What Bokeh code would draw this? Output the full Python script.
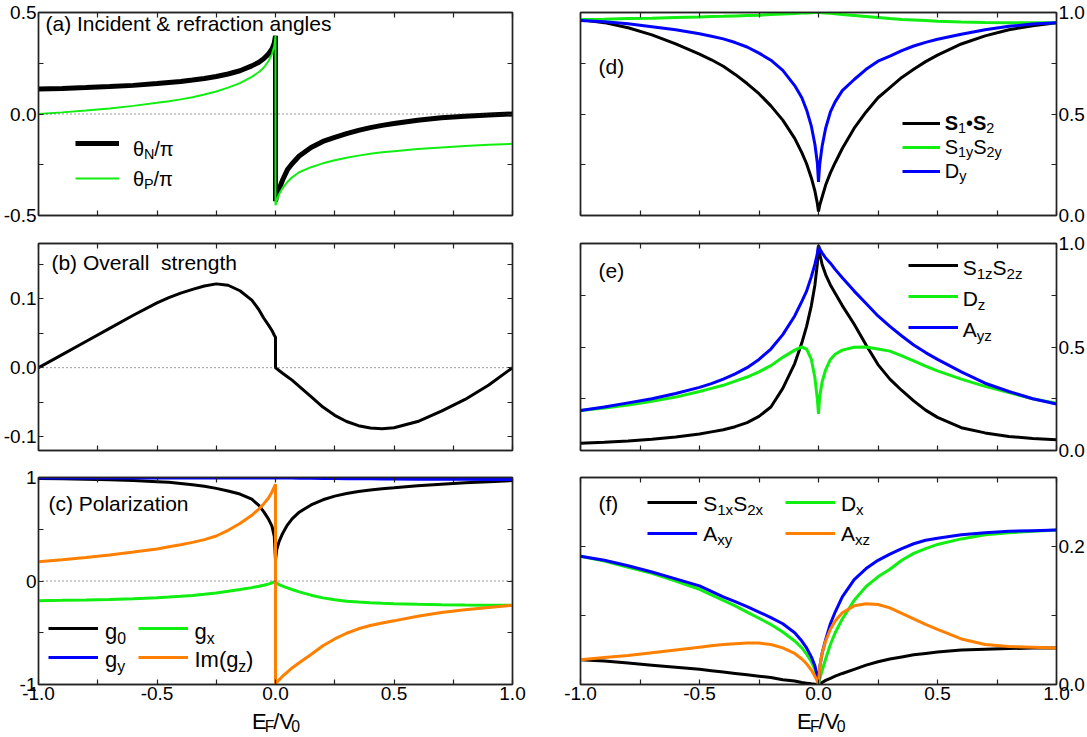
from bokeh.plotting import figure
from bokeh.layouts import gridplot
from bokeh.models import (Range1d, LinearAxis, FixedTicker, PrintfTickFormatter,
                          CustomJSTickFormatter, Span, Label, Legend, LegendItem)
from bokeh.embed import file_html
from bokeh.resources import INLINE

FONT = "Liberation Sans"
AX = "#222222"
GREEN = "#11ee11"
BLUE = "#0000ff"
ORANGE = "#ff8000"
BLACK = "#000000"

# ---------------- data: E_F/V_0 samples (two entries at 0 for the jumps) ----------------
E = [-1.0, -0.9, -0.8, -0.7, -0.6, -0.5, -0.45, -0.4, -0.35, -0.3, -0.25, -0.2, -0.15, -0.1, -0.07, -0.05, -0.03, -0.015, -0.005, 0.0,
     0.0, 0.005, 0.015, 0.03, 0.05, 0.07, 0.1, 0.15, 0.2, 0.25, 0.3, 0.35, 0.4, 0.45, 0.5, 0.6, 0.7, 0.8, 0.9, 1.0]

# (a) incident & refraction angles (units of pi)
theta_N = [0.123, 0.126, 0.130, 0.135, 0.141, 0.150, 0.155, 0.160, 0.167, 0.175, 0.185, 0.197, 0.213, 0.237, 0.255, 0.272, 0.295, 0.320, 0.350, 0.385,
           -0.430, -0.400, -0.370, -0.325, -0.275, -0.245, -0.207, -0.165, -0.135, -0.115, -0.097, -0.081, -0.067, -0.056, -0.047, -0.031, -0.019, -0.011, -0.005, 0.000]
theta_P = [0.000, 0.008, 0.017, 0.027, 0.040, 0.055, 0.063, 0.072, 0.083, 0.096, 0.111, 0.130, 0.152, 0.183, 0.207, 0.228, 0.260, 0.295, 0.335, 0.385,
           -0.450, -0.425, -0.395, -0.365, -0.335, -0.312, -0.287, -0.262, -0.243, -0.228, -0.216, -0.205, -0.196, -0.189, -0.183, -0.173, -0.165, -0.158, -0.152, -0.147]

# (b) overall strength
strength = [0.000, 0.019, 0.038, 0.057, 0.076, 0.094, 0.1015, 0.108, 0.1135, 0.1185, 0.1215, 0.1195, 0.1115, 0.098, 0.084, 0.072, 0.062, 0.054, 0.047, 0.044,
            0.000, -0.0013, -0.004, -0.008, -0.013, -0.018, -0.027, -0.042, -0.057, -0.069, -0.078, -0.084, -0.0875, -0.0885, -0.087, -0.078, -0.063, -0.046, -0.025, 0.000]

# (c) polarization
g0 = [0.990, 0.987, 0.983, 0.978, 0.970, 0.960, 0.953, 0.943, 0.930, 0.915, 0.895, 0.870, 0.840, 0.790, 0.730, 0.670, 0.600, 0.530, 0.430, 0.200,
      0.200, 0.300, 0.380, 0.460, 0.540, 0.600, 0.665, 0.735, 0.785, 0.820, 0.845, 0.865, 0.880, 0.891, 0.900, 0.920, 0.935, 0.950, 0.960, 0.970]
gy = [0.995, 0.995, 0.995, 0.995, 0.995, 0.995, 0.995, 0.995, 0.995, 0.995, 0.995, 0.995, 0.995, 0.995, 0.995, 0.995, 0.995, 0.995, 0.995, 0.995,
      0.995, 0.995, 0.995, 0.995, 0.994, 0.994, 0.993, 0.992, 0.991, 0.990, 0.989, 0.988, 0.987, 0.986, 0.985, 0.984, 0.983, 0.982, 0.981, 0.980]
gx = [-0.190, -0.187, -0.183, -0.178, -0.171, -0.161, -0.155, -0.148, -0.139, -0.128, -0.115, -0.100, -0.083, -0.064, -0.051, -0.041, -0.030, -0.018, -0.008, 0.000,
      0.000, -0.020, -0.035, -0.050, -0.066, -0.082, -0.105, -0.137, -0.163, -0.182, -0.195, -0.204, -0.210, -0.215, -0.219, -0.225, -0.229, -0.232, -0.234, -0.235]
im_gz = [0.185, 0.205, 0.228, 0.252, 0.280, 0.310, 0.330, 0.350, 0.373, 0.400, 0.435, 0.490, 0.555, 0.635, 0.695, 0.745, 0.800, 0.860, 0.910, 0.935,
         -1.000, -0.980, -0.955, -0.920, -0.880, -0.840, -0.790, -0.710, -0.625, -0.560, -0.505, -0.462, -0.430, -0.405, -0.385, -0.340, -0.305, -0.278, -0.255, -0.235]

# (d)
s1_dot_s2 = [0.965, 0.950, 0.925, 0.890, 0.845, 0.795, 0.767, 0.735, 0.695, 0.650, 0.600, 0.540, 0.470, 0.380, 0.310, 0.255, 0.185, 0.120, 0.060, 0.020,
             0.020, 0.050, 0.090, 0.150, 0.210, 0.260, 0.330, 0.430, 0.510, 0.580, 0.630, 0.680, 0.720, 0.758, 0.790, 0.845, 0.885, 0.915, 0.935, 0.950]
s1y_s2y = [0.965, 0.967, 0.970, 0.972, 0.975, 0.978, 0.980, 0.981, 0.983, 0.985, 0.987, 0.990, 0.992, 0.995, 0.997, 0.998, 0.999, 1.000, 1.000, 1.000,
           1.000, 1.000, 0.999, 0.998, 0.996, 0.994, 0.990, 0.985, 0.980, 0.975, 0.970, 0.966, 0.963, 0.960, 0.957, 0.953, 0.951, 0.950, 0.950, 0.950]
d_y = [0.960, 0.955, 0.945, 0.930, 0.915, 0.895, 0.883, 0.870, 0.852, 0.830, 0.800, 0.765, 0.715, 0.640, 0.580, 0.520, 0.440, 0.350, 0.260, 0.165,
       0.165, 0.250, 0.340, 0.430, 0.510, 0.560, 0.615, 0.670, 0.720, 0.760, 0.785, 0.812, 0.835, 0.853, 0.868, 0.893, 0.915, 0.932, 0.943, 0.950]

# (e)
s1z_s2z = [0.035, 0.040, 0.046, 0.054, 0.065, 0.080, 0.090, 0.100, 0.115, 0.135, 0.165, 0.210, 0.300, 0.420, 0.520, 0.600, 0.700, 0.800, 0.900, 0.990,
           0.990, 0.950, 0.900, 0.850, 0.800, 0.760, 0.700, 0.610, 0.510, 0.415, 0.345, 0.290, 0.240, 0.195, 0.160, 0.110, 0.085, 0.068, 0.058, 0.052]
d_z = [0.193, 0.205, 0.220, 0.238, 0.258, 0.285, 0.300, 0.315, 0.335, 0.355, 0.380, 0.410, 0.450, 0.485, 0.500, 0.490, 0.440, 0.350, 0.250, 0.177,
       0.177, 0.260, 0.330, 0.390, 0.440, 0.465, 0.485, 0.499, 0.500, 0.490, 0.480, 0.457, 0.433, 0.408, 0.385, 0.345, 0.310, 0.280, 0.250, 0.228]
a_yz = [0.193, 0.210, 0.230, 0.250, 0.275, 0.305, 0.323, 0.345, 0.370, 0.400, 0.440, 0.490, 0.560, 0.650, 0.720, 0.770, 0.840, 0.900, 0.950, 0.990,
        0.990, 0.975, 0.955, 0.930, 0.905, 0.875, 0.835, 0.770, 0.710, 0.650, 0.600, 0.553, 0.510, 0.473, 0.440, 0.380, 0.325, 0.285, 0.250, 0.225]

# (f)
s1x_s2x = [0.036, 0.034, 0.031, 0.028, 0.025, 0.022, 0.020, 0.018, 0.016, 0.014, 0.012, 0.010, 0.007, 0.005, 0.003, 0.002, 0.001, 0.0005, 0.000, 0.000,
           0.000, 0.001, 0.003, 0.006, 0.009, 0.012, 0.016, 0.022, 0.028, 0.033, 0.037, 0.040, 0.043, 0.045, 0.047, 0.050, 0.051, 0.052, 0.053, 0.053]
d_x = [0.186, 0.179, 0.170, 0.161, 0.150, 0.138, 0.130, 0.122, 0.114, 0.105, 0.096, 0.087, 0.076, 0.063, 0.053, 0.044, 0.033, 0.022, 0.010, 0.000,
       0.000, 0.008, 0.020, 0.037, 0.058, 0.075, 0.095, 0.122, 0.142, 0.156, 0.167, 0.180, 0.190, 0.197, 0.203, 0.211, 0.217, 0.220, 0.222, 0.224]
a_xy = [0.186, 0.180, 0.172, 0.163, 0.153, 0.143, 0.135, 0.127, 0.120, 0.113, 0.105, 0.097, 0.088, 0.075, 0.063, 0.053, 0.040, 0.027, 0.013, 0.000,
        0.000, 0.025, 0.045, 0.065, 0.088, 0.105, 0.127, 0.152, 0.168, 0.180, 0.189, 0.197, 0.204, 0.209, 0.212, 0.217, 0.220, 0.222, 0.223, 0.224]
a_xz = [0.036, 0.039, 0.042, 0.046, 0.050, 0.054, 0.056, 0.058, 0.059, 0.060, 0.060, 0.058, 0.053, 0.045, 0.037, 0.030, 0.021, 0.012, 0.005, 0.000,
        0.000, 0.025, 0.045, 0.063, 0.080, 0.092, 0.104, 0.114, 0.117, 0.116, 0.111, 0.103, 0.095, 0.087, 0.080, 0.066, 0.058, 0.055, 0.054, 0.053]

# tick positions
X_MAJOR = [-1.0, -0.5, 0.0, 0.5, 1.0]
X_MINOR = [-0.75, -0.25, 0.25, 0.75]

# ---------------- text metrics (Arial-like, em units) ----------------
WID = {' ': .278, '\u00a0': .278, '(': .333, ')': .333, '&': .667, '.': .278, '/': .278, '-': .333, '•': .35,
       'A': .667, 'D': .722, 'E': .667, 'F': .611, 'I': .278, 'N': .722, 'O': .778, 'P': .667, 'S': .667, 'V': .667,
       'a': .556, 'b': .556, 'c': .5, 'd': .556, 'e': .556, 'f': .278, 'g': .556, 'h': .556, 'i': .222, 'l': .222,
       'm': .833, 'n': .556, 'o': .556, 'r': .333, 's': .5, 't': .278, 'u': .556, 'x': .5, 'y': .5, 'z': .5,
       'θ': .556, 'π': .6}
SUB = 0.72          # subscript size relative to the main text
SUB_DROP = 0.18     # subscript baseline drop, in units of the main size
LIFT = 0.4          # label anchor correction, in units of each piece's size


def text_w(s):
    return sum(WID.get(c, .556) for c in s)


# ---------------- figure construction ----------------
FW = 477
TOPS = [12, 14, 14]
FHS = [203, 207, 207]
TICK_SIZE = "19px"
COL_W = [546, 541]
ROW_H = [229, 234, 245]
TITLE_H = 737 - sum(ROW_H)


def make_axis(ticks, minor, fmt, show, standoff):
    ax = LinearAxis(ticker=FixedTicker(ticks=ticks, minor_ticks=minor))
    if show:
        ax.formatter = PrintfTickFormatter(format=fmt)
        ax.major_label_standoff = standoff
    else:
        ax.formatter = CustomJSTickFormatter(code="return ''")
        ax.major_label_standoff = 0
    ax.major_label_text_font = FONT
    ax.major_label_text_font_size = TICK_SIZE
    ax.major_label_text_color = "black"
    ax.axis_line_color = AX
    ax.axis_line_width = 1.4
    ax.major_tick_in = 5
    ax.major_tick_out = 0
    ax.minor_tick_in = 5
    ax.minor_tick_out = 0
    ax.major_tick_line_color = AX
    ax.minor_tick_line_color = AX
    ax.major_tick_line_width = 1.2
    ax.minor_tick_line_width = 1.2
    return ax


def make_panel(col, row, ylo, yhi, ymaj, ymin, yfmt):
    left = 35 if col == 0 else 34
    right = COL_W[col] - FW - left
    top = TOPS[row]
    fh = FHS[row]
    bottom = ROW_H[row] - fh - top
    p = figure(width=COL_W[col], height=ROW_H[row],
               x_range=Range1d(-1.0, 1.0), y_range=Range1d(ylo, yhi),
               x_axis_location=None, y_axis_location=None,
               output_backend="svg", toolbar_location=None,
               min_border_left=left, min_border_right=right,
               min_border_top=top, min_border_bottom=bottom)
    p.grid.visible = False
    p.outline_line_color = AX
    p.outline_line_width = 1.4
    p.background_fill_color = "white"
    p.border_fill_color = "white"
    p.add_layout(make_axis(X_MAJOR, X_MINOR, "%.1f", row == 2, 2), "below")
    p.add_layout(make_axis(X_MAJOR, X_MINOR, "%.1f", False, 0), "above")
    p.add_layout(make_axis(ymaj, ymin, yfmt, col == 0, 2), "left")
    p.add_layout(make_axis(ymaj, ymin, yfmt, col == 1, 2), "right")
    meta = dict(left=sum(COL_W[:col]) + left, top=sum(ROW_H[:row]) + top, w=FW, h=fh,
                xlo=-1.0, xhi=1.0, ylo=ylo, yhi=yhi)
    return p, meta


def make_title_strip(col):
    w = COL_W[col]
    p = figure(width=w, height=TITLE_H, x_range=Range1d(0, w), y_range=Range1d(0, TITLE_H),
               x_axis_location=None, y_axis_location=None,
               output_backend="svg", toolbar_location=None,
               min_border_left=0, min_border_right=0, min_border_top=0, min_border_bottom=0)
    p.grid.visible = False
    p.outline_line_color = None
    p.background_fill_color = "white"
    p.border_fill_color = "white"
    meta = dict(left=sum(COL_W[:col]), top=sum(ROW_H), w=w, h=TITLE_H,
                xlo=0, xhi=w, ylo=0, yhi=TITLE_H)
    return p, meta


def page2data(m, px, py):
    x = m["xlo"] + (px - m["left"]) / m["w"] * (m["xhi"] - m["xlo"])
    y = m["yhi"] - (py - m["top"]) / m["h"] * (m["yhi"] - m["ylo"])
    return x, y


def rich(p, m, px, py, parts, size, align="left", sub_drop=SUB_DROP):
    """Draw text made of normal ('n'), bold ('b') and subscript ('s') pieces;
    (px, py) is the baseline start in page pixels."""
    widths = [text_w(t) * (size * SUB if st == "s" else size) for t, st in parts]
    cur = px - sum(widths) / 2 if align == "center" else px
    for (t, st), w in zip(parts, widths):
        fs = size * SUB if st == "s" else size
        drop = size * sub_drop if st == "s" else 0.0
        x, y = page2data(m, cur, py + drop - LIFT * fs)
        p.add_layout(Label(x=x, y=y, text=t, text_font=FONT, text_font_size=f"{fs:.1f}px",
                           text_font_style="bold" if st == "b" else "normal",
                           text_baseline="alphabetic", text_align="left", text_color="black"))
        cur += w


def key_legend(p, m, renderers, x0, x1, ys):
    rowh = 10
    step = (ys[1] - ys[0]) if len(ys) > 1 else 20
    spacing = int(round(step - rowh))
    n = len(renderers)
    h = n * rowh + (n - 1) * spacing
    top = ys[0] - rowh / 2 - m["top"]
    vy = m["h"] - top - h
    vx = x0 - m["left"]
    leg = Legend(items=[LegendItem(label=" ", renderers=[r]) for r in renderers],
                 location=(vx, vy), orientation="vertical", padding=0, margin=0,
                 spacing=spacing, glyph_width=int(x1 - x0), glyph_height=rowh,
                 label_height=rowh, label_width=0, label_standoff=0,
                 label_text_font_size="1px", border_line_color=None,
                 background_fill_color=None)
    p.add_layout(leg)


def zero_line(p):
    p.add_layout(Span(location=0, dimension="width", line_color="#333333",
                      line_width=1, line_dash="1 3"))


EF_V0 = [("E", "n"), ("F", "s"), ("/V", "n"), ("0", "s")]

# ---------------- (a) ----------------
pa, ma = make_panel(0, 0, -0.5, 0.5, [-0.5, 0.0, 0.5], [-0.25, 0.25], "%.1f")
zero_line(pa)
ra1 = pa.line(E, theta_N, line_color=BLACK, line_width=5)
ra2 = pa.line(E, theta_P, line_color=GREEN, line_width=2)
rich(pa, ma, 42, 31, [("(a) Incident & refraction angles", "n")], 21)
key_legend(pa, ma, [ra1, ra2], 72, 116, [143, 178])
rich(pa, ma, 130, 156, [("θ", "n"), ("N", "s"), ("/π", "n")], 20)
rich(pa, ma, 130, 186, [("θ", "n"), ("P", "s"), ("/π", "n")], 20)

# ---------------- (b) ----------------
pb, mb = make_panel(0, 1, -0.12, 0.18, [-0.1, 0.0, 0.1], [-0.05, 0.05, 0.15], "%.1f")
zero_line(pb)
pb.line(E, strength, line_color=BLACK, line_width=3)
rich(pb, mb, 48, 270, [("(b) Overall\u00a0 strength", "n")], 21)

# ---------------- (c) ----------------
pc, mc = make_panel(0, 2, -1.0, 1.0, [-1, 0, 1], [-0.5, 0.5], "%d")
zero_line(pc)
rc0 = pc.line(E, g0, line_color=BLACK, line_width=3)
rcy = pc.line(E, gy, line_color=BLUE, line_width=3)
rcx = pc.line(E, gx, line_color=GREEN, line_width=3)
rcz = pc.line(E, im_gz, line_color=ORANGE, line_width=3)
rich(pc, mc, 45, 511, [("(c) Polarization", "n")], 21)
key_legend(pc, mc, [rc0, rcy], 45, 95, [628, 657])
key_legend(pc, mc, [rcx, rcz], 135, 185, [628, 657])
rich(pc, mc, 102, 640, [("g", "n"), ("0", "s")], 22)
rich(pc, mc, 102, 668, [("g", "n"), ("y", "s")], 22)
rich(pc, mc, 192, 640, [("g", "n"), ("x", "s")], 22)
rich(pc, mc, 192, 668, [("Im(g", "n"), ("z", "s"), (")", "n")], 22)

# ---------------- (d) ----------------
pd_, md = make_panel(1, 0, 0.0, 1.0, [0.0, 0.5, 1.0], [0.25, 0.75], "%.1f")
rd1 = pd_.line(E, s1_dot_s2, line_color=BLACK, line_width=3)
rd2 = pd_.line(E, s1y_s2y, line_color=GREEN, line_width=3)
rd3 = pd_.line(E, d_y, line_color=BLUE, line_width=3)
rich(pd_, md, 598, 74, [("(d)", "n")], 21)
key_legend(pd_, md, [rd1, rd2, rd3], 902, 940, [123, 146.5, 170])
rich(pd_, md, 945, 130, [("S", "b"), ("1", "s"), ("•", "n"), ("S", "b"), ("2", "s")], 20)
rich(pd_, md, 945, 154, [("S", "n"), ("1y", "s"), ("S", "n"), ("2y", "s")], 20)
rich(pd_, md, 945, 178, [("D", "n"), ("y", "s")], 20)

# ---------------- (e) ----------------
pe, me = make_panel(1, 1, 0.0, 1.0, [0.0, 0.5, 1.0], [0.25, 0.75], "%.1f")
re1 = pe.line(E, s1z_s2z, line_color=BLACK, line_width=3)
re2 = pe.line(E, d_z, line_color=GREEN, line_width=3)
re3 = pe.line(E, a_yz, line_color=BLUE, line_width=3)
rich(pe, me, 598, 278, [("(e)", "n")], 21)
key_legend(pe, me, [re1, re2, re3], 908, 958, [265, 296, 327])
rich(pe, me, 963, 275, [("S", "n"), ("1z", "s"), ("S", "n"), ("2z", "s")], 21)
rich(pe, me, 963, 306, [("D", "n"), ("z", "s")], 21)
rich(pe, me, 963, 337, [("A", "n"), ("yz", "s")], 21)

# ---------------- (f) ----------------
pf, mf = make_panel(1, 2, 0.0, 0.3, [0.0, 0.2], [0.1, 0.3], "%.1f")
rf1 = pf.line(E, s1x_s2x, line_color=BLACK, line_width=3)
rf2 = pf.line(E, d_x, line_color=GREEN, line_width=3)
rf3 = pf.line(E, a_xy, line_color=BLUE, line_width=3)
rf4 = pf.line(E, a_xz, line_color=ORANGE, line_width=3)
rich(pf, mf, 598, 511, [("(f)", "n")], 21)
key_legend(pf, mf, [rf1, rf3], 647, 697, [502, 533])
key_legend(pf, mf, [rf2, rf4], 785, 835, [502, 533])
rich(pf, mf, 703, 511, [("S", "n"), ("1x", "s"), ("S", "n"), ("2x", "s")], 21)
rich(pf, mf, 703, 541, [("A", "n"), ("xy", "s")], 21)
rich(pf, mf, 841, 511, [("D", "n"), ("x", "s")], 21)
rich(pf, mf, 841, 541, [("A", "n"), ("xz", "s")], 21)

# ---------------- x-axis titles under the bottom row ----------------
ta, mta = make_title_strip(0)
rich(ta, mta, 273, 729.5, EF_V0, 22, align="center", sub_drop=0.12)
tf, mtf = make_title_strip(1)
rich(tf, mtf, 819, 729.5, EF_V0, 22, align="center", sub_drop=0.12)

grid = gridplot([[pa, pd_], [pb, pe], [pc, pf], [ta, tf]], toolbar_location=None)

with open("out.html", "w") as fh:
    fh.write(file_html(grid, INLINE))
